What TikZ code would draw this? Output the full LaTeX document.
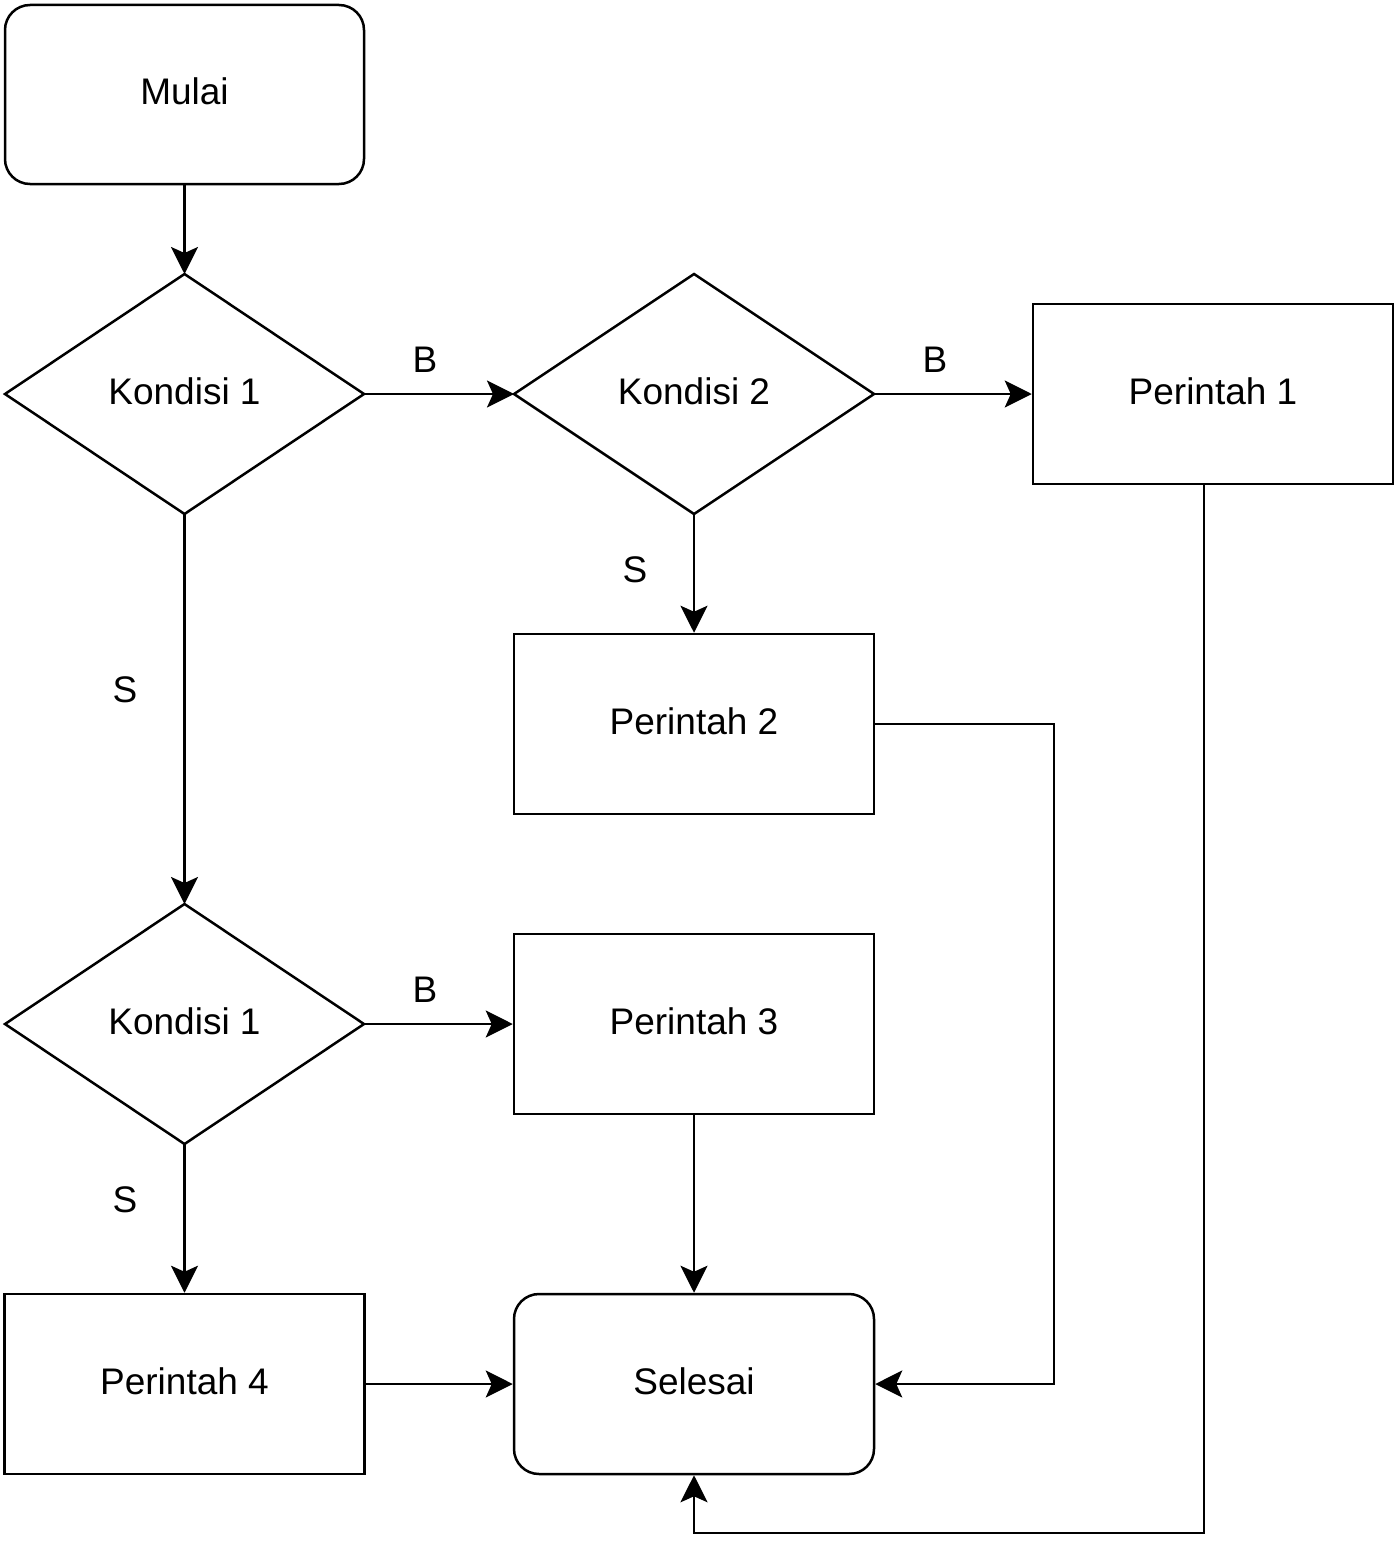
\documentclass[tikz,border=0pt]{standalone}
\usepackage{fontspec}
\setmainfont{Liberation Sans}
\usetikzlibrary{arrows.meta,shapes.geometric}
\begin{document}
\begin{tikzpicture}[x=1pt,y=-1pt,
  every node/.style={font=\fontsize{37}{44}\selectfont},
  base/.style={draw, line width=2.5pt, inner sep=0pt},
  terminal/.style={base, rounded corners=25pt, minimum width=359pt, minimum height=179pt},
  process/.style={base, minimum width=360pt, minimum height=180pt},
  label text/.style={inner sep=0pt, yshift=3pt},
  diamondline/.style={line width=2.5pt, line join=miter},
  flow/.style={line width=2.5pt, -{Stealth[length=27pt, width=27pt, inset=6pt]}},
  lbl/.style={inner sep=0pt}]
\useasboundingbox (0,0) rectangle (1398,1563);

% start
\node[terminal] (mulai) at (184.5,94.5) {};
\node[label text] (mulaiT) at (mulai) {Mulai};

% decision: Kondisi 1
\draw[diamondline] (5,394) -- (184.5,274) -- (364,394) -- (184.5,514) -- cycle;
\coordinate (k1n) at (184.5,274);
\coordinate (k1e) at (364,394);
\coordinate (k1s) at (184.5,514);
\node[label text] (k1) at (184.5,394) {Kondisi 1};

% decision: Kondisi 2
\draw[diamondline] (514,394) -- (694,274) -- (874,394) -- (694,514) -- cycle;
\coordinate (k2w) at (514,394);
\coordinate (k2e) at (874,394);
\coordinate (k2s) at (694,514);
\node[label text] (k2) at (694,394) {Kondisi 2};

% processes
\node[process] (p1) at (1213,394) {};
\node[label text] (p1T) at (p1) {Perintah 1};
\node[process] (p2) at (694,724) {};
\node[label text] (p2T) at (p2) {Perintah 2};

% second decision
\draw[diamondline] (5,1024) -- (184.5,904) -- (364,1024) -- (184.5,1144) -- cycle;
\coordinate (k3n) at (184.5,904);
\coordinate (k3e) at (364,1024);
\coordinate (k3s) at (184.5,1144);
\node[label text] (k3) at (184.5,1024) {Kondisi 1};

\node[process] (p3) at (694,1024) {};
\node[label text] (p3T) at (p3) {Perintah 3};
\node[process] (p4) at (184.5,1384) {};
\node[label text] (p4T) at (p4) {Perintah 4};

% end
\node[terminal, minimum width=360pt, minimum height=180pt] (selesai) at (694,1384) {};
\node[label text] (selesaiT) at (selesai) {Selesai};

% connectors
\draw[flow] (mulai.south) -- (k1n);
\draw[flow] (k1e) -- (k2w);
\draw[flow] (k2e) -- (p1.west);
\draw[flow] (k2s) -- (p2.north);
\draw[flow] (k1s) -- (k3n);
\draw[flow] (k3e) -- (p3.west);
\draw[flow] (k3s) -- (p4.north);
\draw[flow] (p3.south) -- (selesai.north);
\draw[flow] (p4.east) -- (selesai.west);
\coordinate (c2a) at (1054,724);
\coordinate (c2b) at (1054,1384);
\draw[flow] (p2.east) -- (c2a) -- (c2b) -- (selesai.east);
\coordinate (c1a) at (1204,484);
\coordinate (c1b) at (1204,1533);
\coordinate (c1c) at (694,1533);
\draw[flow] (c1a) -- (c1b) -- (c1c) -- (selesai.south);

% branch labels
\node[lbl] (b1) at (425,360) {B};
\node[lbl] (b2) at (935,360) {B};
\node[lbl] (s2) at (635,570) {S};
\node[lbl] (s1) at (125,690) {S};
\node[lbl] (b3) at (425,990) {B};
\node[lbl] (s3) at (125,1200) {S};
\end{tikzpicture}
\end{document}
